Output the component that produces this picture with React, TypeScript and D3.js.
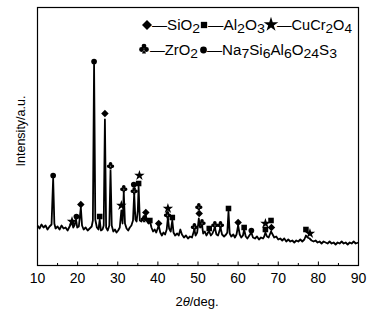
import React from "react";
import * as d3 from "d3";

// 2theta / intensity pairs (arbitrary units)
const part1: [number, number][] = [
  [10, 40], [10.5, 37], [11, 41], [11.5, 38], [12, 40], [12.5, 36], [13, 39], [13.5, 41],
  [13.9, 87], [14.2, 42], [14.5, 37], [15, 39], [15.5, 36], [16, 40], [16.5, 37], [17, 38],
  [17.5, 35], [18, 39], [18.3, 41], [18.6, 44], [18.9, 38], [19.2, 40], [19.6, 46], [19.9, 38],
  [20.3, 39], [20.8, 58], [21.1, 40], [21.5, 36], [22, 38], [22.5, 35], [23, 37], [23.5, 39],
  [23.8, 45], [24.1, 201], [24.4, 46], [24.8, 38], [25.2, 36], [25.5, 46], [25.8, 35], [26.2, 36],
  [26.5, 40], [26.8, 146], [27.1, 38], [27.5, 35], [27.9, 40], [28.2, 95], [28.5, 40], [28.9, 34],
  [29.3, 36], [29.7, 33], [30.1, 35], [30.5, 38],
];
const part2: [number, number][] = [
  [30.9, 55], [31.2, 42], [31.5, 73], [31.8, 42], [32.2, 37], [32.6, 35], [33, 38], [33.4, 40],
  [33.8, 45], [34.1, 72], [34.4, 46], [34.7, 44], [35.0, 55], [35.2, 79], [35.5, 45], [35.9, 44],
  [36.3, 48], [36.7, 46], [37.0, 50], [37.3, 44], [37.7, 42], [38.0, 45], [38.4, 38], [38.8, 34],
  [39.2, 36], [39.6, 33], [40.2, 40], [40.6, 33], [41, 30], [41.4, 33], [41.8, 31], [42.2, 36],
  [42.5, 48], [42.8, 37], [43.2, 34], [43.6, 45], [43.9, 33], [44.3, 30], [44.8, 32], [45.2, 30],
  [45.6, 36], [46, 31], [46.5, 28], [47, 30], [47.5, 27], [48, 29], [48.5, 28], [49.1, 36],
  [49.4, 30], [49.8, 33],
];
const part3: [number, number][] = [
  [50.2, 47], [50.5, 38], [51, 40], [51.3, 32], [51.7, 34], [52.1, 30], [52.5, 33], [52.8, 34],
  [53.2, 30], [53.6, 32], [54.2, 38], [54.6, 31], [55, 30], [55.6, 38], [56, 31], [56.5, 29],
  [57, 31], [57.3, 33], [57.6, 54], [57.9, 32], [58.3, 29], [58.8, 31], [59.2, 28], [59.6, 31],
  [60, 40], [60.4, 31], [60.8, 28], [61.2, 30], [61.5, 36], [61.9, 29], [62.3, 27], [62.8, 30],
  [63.3, 33], [63.7, 28], [64.2, 27], [64.7, 29], [65.2, 26], [65.7, 28], [66.2, 27], [66.5, 29],
  [66.8, 33], [67.2, 29], [67.6, 28], [68.2, 34], [68.6, 31], [69, 28], [69.5, 29],
];
const part4: [number, number][] = [
  [70, 26], [70.5, 27], [71, 25], [71.5, 27], [72, 24], [72.5, 26], [73, 24], [73.5, 25],
  [74, 23], [74.5, 25], [75, 24], [75.5, 26], [76, 24], [76.5, 26], [76.9, 30], [77.3, 28],
  [77.8, 27], [78.3, 25], [78.8, 24], [79.3, 25], [79.8, 23], [80.3, 24], [80.8, 22], [81.3, 24],
  [81.8, 23], [82.3, 22], [82.8, 24], [83.3, 22], [83.8, 23], [84.3, 21], [84.8, 23], [85.3, 22],
  [85.8, 24], [86.3, 22], [86.8, 23], [87.3, 21], [87.8, 23], [88.3, 22], [88.8, 24], [89.3, 22],
  [90, 23],
];
const pattern = [...part1, ...part2, ...part3, ...part4];

// phase markers: [phase, 2theta, intensity]
const markers: [string, number, number][] = [
  ["circle", 13.9, 90], ["circle", 24.1, 204], ["diamond", 26.8, 152], ["club", 28.2, 100],
  ["diamond", 20.8, 61], ["circle", 19.7, 49], ["star", 18.6, 44], ["square", 25.5, 49],
  ["star", 30.9, 60], ["club", 31.5, 77], ["club", 34.1, 75], ["circle", 34.0, 81],
  ["square", 35.2, 82], ["star", 35.4, 90], ["diamond", 37.0, 53], ["club", 36.6, 47],
  ["square", 38.0, 45], ["diamond", 40.2, 42], ["star", 42.5, 57], ["club", 42.4, 51],
  ["square", 43.6, 48], ["club", 49.1, 39], ["club", 50.2, 59], ["diamond", 50.3, 52],
  ["club", 51.0, 43], ["square", 52.8, 37], ["club", 54.2, 41], ["club", 55.6, 41],
  ["square", 57.6, 57], ["diamond", 60.0, 43], ["square", 61.5, 38], ["circle", 63.3, 35],
  ["star", 66.8, 42], ["square", 66.8, 36], ["square", 68.2, 45], ["diamond", 68.3, 38],
  ["square", 76.9, 36], ["star", 77.9, 32],
];

const majorTicks = [10, 20, 30, 40, 50, 60, 70, 80, 90];
const minorTicks = [15, 25, 35, 45, 55, 65, 75, 85];

const W = 373;
const H = 320;
const left = 37.5;
const right = 358.5;
const top = 7.5;
const bottom = 265.5;

// club suit drawn as three lobes and a stem
const clubPath = (s: number) => {
  const p = d3.path();
  const r = s * 0.24;
  const lobes: [number, number][] = [[0, -s * 0.24], [-s * 0.25, s * 0.1], [s * 0.25, s * 0.1]];
  lobes.forEach(([cx, cy]) => {
    p.moveTo(cx + r, cy);
    p.arc(cx, cy, r, 0, Math.PI * 2);
  });
  p.moveTo(0, 0);
  p.lineTo(-s * 0.2, s * 0.5);
  p.lineTo(s * 0.2, s * 0.5);
  p.closePath();
  return p.toString();
};

const Marker = ({ kind, x, y, size }: { kind: string; x: number; y: number; size: number }) => {
  if (kind === "club") {
    return <path d={clubPath(size)} transform={`translate(${x},${y})`} fill="#000" />;
  }
  let sym: d3.SymbolType = d3.symbolCircle;
  let area = size * size * 0.45;
  let rot = 0;
  if (kind === "square") { sym = d3.symbolSquare; area = size * size * 0.55; }
  if (kind === "diamond") { sym = d3.symbolSquare; area = size * size * 0.5; rot = 45; }
  if (kind === "star") { sym = d3.symbolStar; area = size * size * 0.6; }
  const d = d3.symbol().type(sym).size(area)() as string;
  return <path d={d} transform={`translate(${x},${y}) rotate(${rot})`} fill="#000" />;
};

const Sub = ({ t }: { t: string }) => (
  <tspan dy={3} fontSize={13}>{t}</tspan>
);

export default function App() {
  const x = d3.scaleLinear().domain([10, 90]).range([left, right]);
  const y = d3.scaleLinear().domain([0, 258]).range([bottom, top]);
  const line = d3.line<[number, number]>().x((d) => x(d[0])).y((d) => y(d[1]));

  const font = "Liberation Sans, Arial, sans-serif";

  return (
    <svg width={W} height={H} style={{ position: "absolute", left: 0, top: 0, background: "#fff" }}>
      <rect x={left} y={top} width={right - left} height={bottom - top} fill="none" stroke="#000" strokeWidth={1.2} />
      {majorTicks.map((t) => (
        <g key={t}>
          <line x1={x(t)} x2={x(t)} y1={bottom} y2={bottom - 4} stroke="#000" />
          <text x={x(t)} y={283} fontFamily={font} fontSize={14} textAnchor="middle">{t}</text>
        </g>
      ))}
      {minorTicks.map((t) => (
        <line key={t} x1={x(t)} x2={x(t)} y1={bottom} y2={bottom - 2.5} stroke="#000" />
      ))}
      <path d={line(pattern) as string} fill="none" stroke="#000" strokeWidth={1.8} strokeLinejoin="round" />
      {markers.map(([k, t, v], i) => (
        <Marker key={i} kind={k} x={x(t)} y={y(v)} size={7.5} />
      ))}
      <text x={197} y={306} fontFamily={font} fontSize={13} textAnchor="middle">
        2<tspan fontStyle="italic">θ</tspan>/deg.
      </text>
      <text transform="translate(25,131) rotate(-90)" fontFamily={font} fontSize={12.5} textAnchor="middle">
        Intensity/a.u.
      </text>
      <g fontFamily={font} fontSize={14}>
        <Marker kind="diamond" x={147} y={25} size={10} />
        <text x={152} y={30} textLength={48} lengthAdjust="spacingAndGlyphs">
          —SiO<Sub t="2" />
        </text>
        <Marker kind="square" x={204} y={25} size={8.5} />
        <text x={208} y={30} textLength={57} lengthAdjust="spacingAndGlyphs">
          —Al<Sub t="2" /><tspan dy={-3}>O</tspan><Sub t="3" />
        </text>
        <Marker kind="star" x={271} y={24.5} size={10.5} />
        <text x={277} y={30} textLength={75} lengthAdjust="spacingAndGlyphs">
          —CuCr<Sub t="2" /><tspan dy={-3}>O</tspan><Sub t="4" />
        </text>
        <Marker kind="club" x={144} y={48.5} size={10} />
        <text x={150} y={55} textLength={48} lengthAdjust="spacingAndGlyphs">
          —ZrO<Sub t="2" />
        </text>
        <Marker kind="circle" x={203.5} y={50} size={9} />
        <text x={207} y={55} textLength={130} lengthAdjust="spacingAndGlyphs">
          —Na<Sub t="7" /><tspan dy={-3}>Si</tspan><Sub t="6" /><tspan dy={-3}>Al</tspan><Sub t="6" /><tspan dy={-3}>O</tspan><Sub t="24" /><tspan dy={-3}>S</tspan><Sub t="3" />
        </text>
      </g>
    </svg>
  );
}
